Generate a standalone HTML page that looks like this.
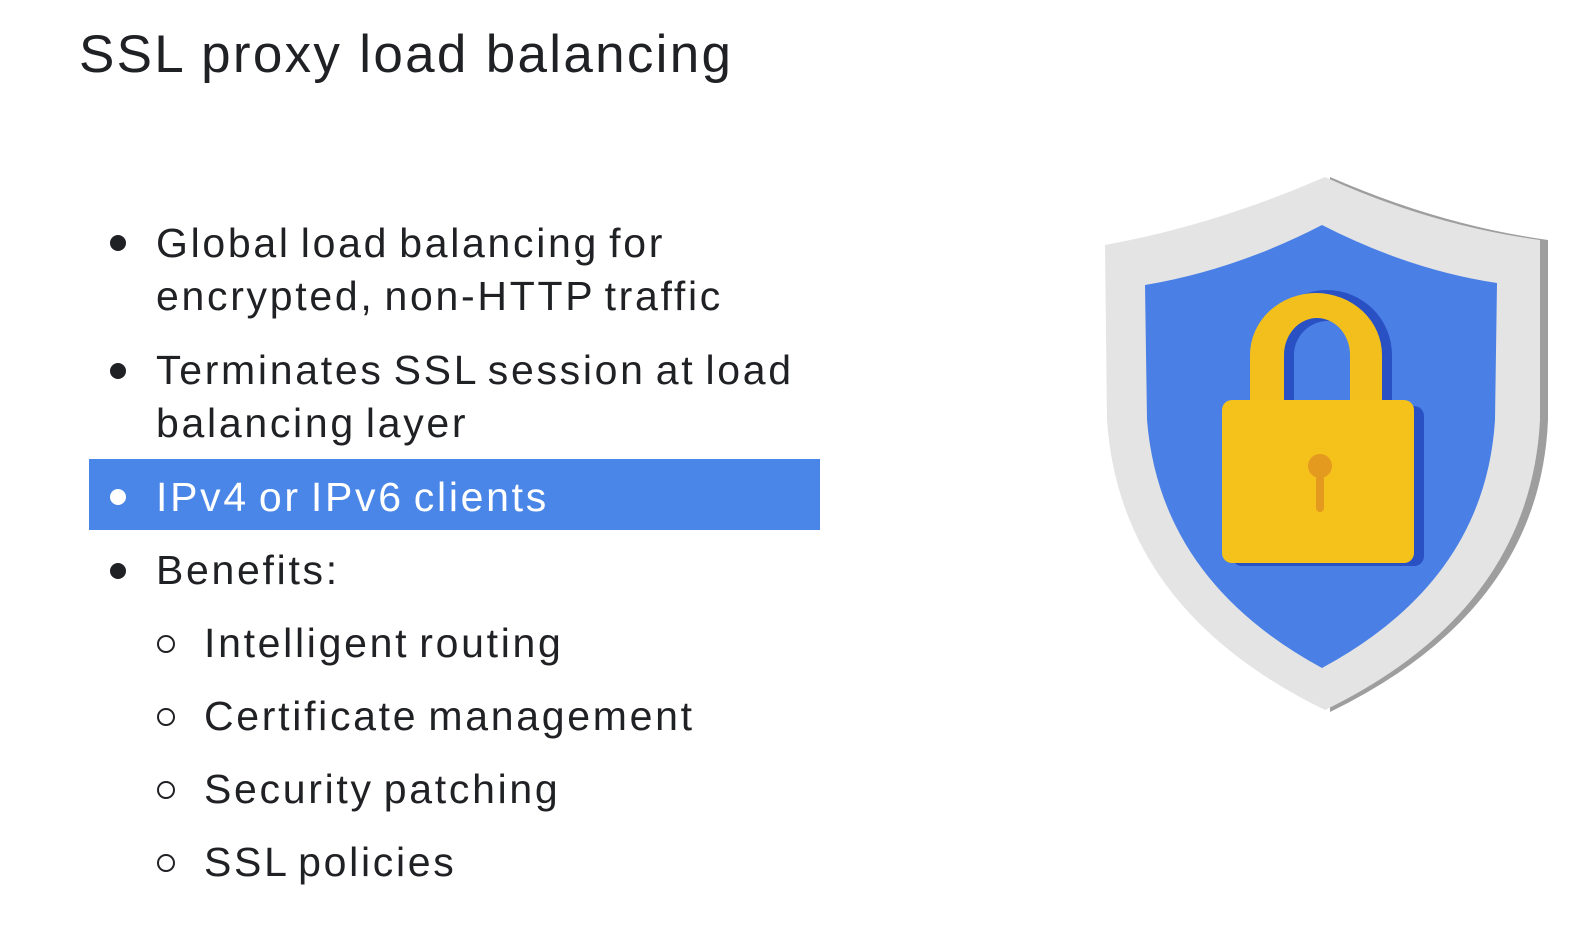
<!DOCTYPE html>
<html><head><style>
body{margin:0;width:1570px;height:937px;background:#fff;position:relative;overflow:hidden;font-family:"Liberation Sans",sans-serif;color:#202124}
.t{position:absolute;white-space:nowrap}
h1{position:absolute;left:79px;top:24px;margin:0;font-weight:normal;font-size:53px;letter-spacing:2.3px}
.b{font-size:41px;letter-spacing:2.7px;word-spacing:-4px}
.dot{position:absolute;width:16px;height:16px;border-radius:50%;background:#202124}
.ring{position:absolute;border-radius:50%;border:2px solid #202124;box-sizing:border-box;width:18px;height:18px}
</style></head><body>
<h1>SSL proxy load balancing</h1>
<div class="dot" style="left:110px;top:235px"></div>
<div class="t b" style="left:156px;top:220px">Global load balancing for</div>
<div class="t b" style="left:156px;top:273px">encrypted, non-HTTP traffic</div>
<div class="dot" style="left:110px;top:363px"></div>
<div class="t b" style="left:156px;top:347px">Terminates SSL session at load</div>
<div class="t b" style="left:156px;top:400px">balancing layer</div>
<div style="position:absolute;left:89px;top:459px;width:731px;height:71px;background:#4a86e8"></div>
<div class="dot" style="left:110px;top:489px;background:#fff"></div>
<div class="t b" style="left:156px;top:474px;color:#fff">IPv4 or IPv6 clients</div>
<div class="dot" style="left:110px;top:563px"></div>
<div class="t b" style="left:156px;top:547px">Benefits:</div>
<div class="ring" style="left:157px;top:635px"></div>
<div class="t b" style="left:204px;top:620px">Intelligent routing</div>
<div class="ring" style="left:157px;top:708px"></div>
<div class="t b" style="left:204px;top:693px">Certificate management</div>
<div class="ring" style="left:157px;top:781px"></div>
<div class="t b" style="left:204px;top:766px">Security patching</div>
<div class="ring" style="left:157px;top:854px"></div>
<div class="t b" style="left:204px;top:839px">SSL policies</div>
<svg style="position:absolute;left:0;top:0" width="1570" height="937">
<path d="M1330,177 Q1440,225 1548,240 L1548,420 Q1540,610 1330,712 Z" fill="#9e9e9e"/>
<path d="M1325,177 Q1215,225 1105,245 L1107,420 Q1120,610 1325,710 Q1530,610 1540,420 L1540,240 Q1430,225 1325,177 Z" fill="#e4e4e4"/>
<path d="M1322,225 Q1235,270 1145,285 L1147,420 Q1160,580 1322,668 Q1485,580 1495,420 L1497,283 Q1410,270 1322,225 Z" fill="#4a80e6"/>
<path d="M1262,400 V355 A62,62 0 0 1 1392,355 V400 H1362 V355 A34,34 0 0 0 1294,355 V400 Z" fill="#2951c4"/>
<path d="M1250,400 V355 A66,62 0 0 1 1382,355 V400 H1350 V355 A33,37 0 0 0 1284,355 V400 Z" fill="#f3bf1c"/>
<rect x="1232" y="406" width="192" height="160" rx="10" fill="#2951c4"/>
<rect x="1222" y="400" width="192" height="163" rx="10" fill="#f4c21a"/>
<circle cx="1320" cy="466" r="12" fill="#e39a1e"/>
<rect x="1316" y="466" width="8" height="46" rx="4" fill="#e39a1e"/>
</svg>
</body></html>
